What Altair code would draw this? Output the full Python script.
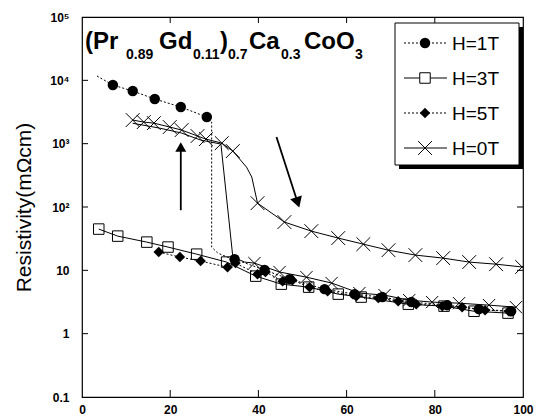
import altair as alt
import pandas as pd

# ---------------- data ----------------
# H=1T : dotted line, filled circles
h1_line_x = [3.4, 7.0, 11.5, 16.5, 22.4, 28.3, 29.4, 29.4, 30.8, 33.5, 34.6, 41.4, 47.1, 55.0, 61.8, 68.1, 74.7, 82.8, 90.0, 97.3]
h1_line_y = [11700, 8430, 6780, 5070, 3790, 2630, 2190, 23.3, 18.7, 15.6, 15.0, 10.1, 7.26, 5.05, 4.21, 3.78, 3.15, 2.82, 2.44, 2.26]
h1_mark_x = [7.0, 11.5, 16.5, 22.4, 28.3, 34.6, 41.4, 47.1, 55.0, 61.8, 68.1, 74.7, 82.8, 90.0, 97.3]
h1_mark_y = [8430, 6780, 5070, 3790, 2630, 15.0, 10.1, 7.26, 5.05, 4.21, 3.78, 3.15, 2.82, 2.44, 2.26]

# H=3T : solid line, open squares
h3_x = [3.8, 8.1, 14.7, 19.5, 26.0, 32.8, 39.4, 45.2, 51.4, 58.1, 63.3, 74.0, 82.1, 88.9, 96.6]
h3_y = [44.8, 34.7, 27.9, 23.3, 18.0, 13.5, 8.1, 6.05, 5.43, 4.21, 3.78, 2.92, 2.72, 2.26, 2.11]

# H=5T : dotted line, filled diamonds
h5_x = [17.4, 22.2, 26.9, 33.0, 34.8, 39.8, 41.6, 45.5, 47.7, 51.6, 55.7, 62.2, 67.2, 71.7, 75.8, 81.7, 86.2, 91.4, 96.8]
h5_y = [19.4, 16.2, 14.0, 11.2, 13.0, 8.7, 9.4, 6.75, 7.0, 5.43, 4.69, 3.91, 3.64, 3.26, 2.92, 2.72, 2.62, 2.35, 2.26]

# H=0T (upper branch) : solid line, crosses
h0a_line_x = [11.5, 14.0, 16.3, 19.9, 22.6, 26.2, 28.1, 31.7, 34.2, 37.3, 38.5, 39.8, 45.9, 52.0, 58.1, 63.8, 69.5, 75.6, 81.9, 87.8, 93.9, 99.8]
h0a_line_y = [2360, 2190, 2110, 1830, 1640, 1320, 1180, 1020, 764, 427, 297, 115, 57.8, 41.6, 32.3, 25.9, 20.8, 17.4, 15.6, 13.5, 12.5, 11.3]
h0a_mark_x = [11.5, 14.0, 16.3, 19.9, 22.6, 26.2, 28.1, 31.7, 34.2, 39.8, 45.9, 52.0, 58.1, 63.8, 69.5, 75.6, 81.9, 87.8, 93.9, 99.8]
h0a_mark_y = [2360, 2190, 2110, 1830, 1640, 1320, 1180, 1020, 764, 115, 57.8, 41.6, 32.3, 25.9, 20.8, 17.4, 15.6, 13.5, 12.5, 11.3]

# H=0T (second branch, dropping near 33) : solid line, crosses on the low part
h0b_line_x = [11.5, 17.6, 22.6, 26.9, 31.5, 34.2, 36.9, 39.1, 44.8, 50.9, 56.6, 62.9, 68.6, 74.2, 79.4, 85.5, 92.3, 98.4]
h0b_line_y = [2100, 1760, 1470, 1140, 986, 16.2, 13.5, 13.0, 9.4, 7.8, 6.3, 4.37, 4.06, 3.38, 3.15, 3.03, 2.82, 2.62]
h0b_mark_x = [39.1, 44.8, 50.9, 56.6, 62.9, 68.6, 74.2, 79.4, 85.5, 92.3, 98.4]
h0b_mark_y = [13.0, 9.4, 7.8, 6.3, 4.37, 4.06, 3.38, 3.15, 3.03, 2.82, 2.62]

# arrows (tail -> head)
arrow_up_x = [22.4, 22.4]
arrow_up_y = [89, 883]
arrow_dn_x = [44.1, 48.9]
arrow_dn_y = [1270, 118]

x_ticks = [0, 20, 40, 60, 80, 100]
y_ticks = [0.1, 1, 10, 100, 1000, 10000, 100000]
y_tick_labels = ["0.1", "1", "10", "10²", "10³", "10⁴", "10⁵"]
legend_labels = ["H=1T", "H=3T", "H=5T", "H=0T"]

# ---------------- chart ----------------
W, H = 441, 380
FONT = "Liberation Sans"
XPATH = "M-1,-1L1,1M-1,1L1,-1"

xs = alt.Scale(domain=[0, 100], nice=False)
ys = alt.Scale(type="log", domain=[0.1, 100000], nice=False)

label_expr = " : ".join(
    f"datum.value == {v} ? '{l}'" for v, l in zip(y_ticks, y_tick_labels)
) + " : ''"

x_axis = alt.Axis(values=x_ticks, ticks=False, domain=False, grid=False,
                  labelFont=FONT, labelFontSize=12, labelFontWeight="bold",
                  labelPadding=7, labelColor="black", title=None,
                  labelFlush=False)
y_axis = alt.Axis(values=y_ticks, ticks=False, domain=False, grid=False,
                  labelExpr=label_expr, labelFont=FONT, labelFontSize=12,
                  labelFontWeight="bold", labelPadding=13, labelColor="black",
                  title="Resistivity(mΩcm)", titleFont=FONT, titleFontSize=21,
                  titleFontWeight="normal", titleColor="black",
                  titleX=-48, titleY=190, titleAngle=-90, titleAlign="center",
                  titleBaseline="bottom", labelFlush=False)


def X(field):
    return alt.X(field, scale=xs, axis=x_axis)


def Y(field):
    return alt.Y(field, scale=ys, axis=y_axis)


def df_xy(x, y):
    return pd.DataFrame({"x": x, "y": y, "o": list(range(len(x)))})


def line_layer(x, y, dash=None, width=1.0):
    kw = dict(color="black", strokeWidth=width, clip=True)
    if dash:
        kw["strokeDash"] = dash
    return alt.Chart(df_xy(x, y)).mark_line(**kw).encode(
        x=X("x:Q"), y=Y("y:Q"), order="o:Q")


def mark_layer(x, y, shape, filled, size, sw=1):
    kw = dict(shape=shape, filled=filled, size=size, color="black",
              strokeWidth=sw, opacity=1, clip=True)
    if filled:
        kw["fill"] = "black"
    return alt.Chart(df_xy(x, y)).mark_point(**kw).encode(x=X("x:Q"), y=Y("y:Q"))


DOT = [2, 2]
layers = [
    line_layer(h1_line_x, h1_line_y, DOT),
    line_layer(h3_x, h3_y),
    line_layer(h5_x, h5_y, DOT),
    line_layer(h0a_line_x, h0a_line_y),
    line_layer(h0b_line_x, h0b_line_y),
    mark_layer(h3_x, h3_y, "square", False, 110),
    mark_layer(h0a_mark_x, h0a_mark_y, XPATH, False, 190),
    mark_layer(h0b_mark_x, h0b_mark_y, XPATH, False, 150),
    mark_layer(h5_x, h5_y, "diamond", True, 110),
    mark_layer(h1_mark_x, h1_mark_y, "circle", True, 110),
]

# arrows
for ax_, ay_, ang, hs in [(arrow_up_x, arrow_up_y, 0, 120), (arrow_dn_x, arrow_dn_y, 162, 150)]:
    layers.append(line_layer(ax_, ay_, width=1.8))
    layers.append(alt.Chart(df_xy(ax_[1:], ay_[1:])).mark_point(
        shape="triangle-up", filled=True, fill="black", color="black",
        size=hs, angle=ang, opacity=1).encode(x=X("x:Q"), y=Y("y:Q")))

# inward ticks on all four sides
ytk = pd.DataFrame({"y": y_ticks[1:-1]})
xtk = pd.DataFrame({"x": x_ticks[1:-1]})
layers += [
    alt.Chart(ytk).mark_rule(color="black", strokeWidth=1).encode(
        y=Y("y:Q"), x=alt.value(0), x2=alt.value(6)),
    alt.Chart(ytk).mark_rule(color="black", strokeWidth=1).encode(
        y=Y("y:Q"), x=alt.value(W), x2=alt.value(W - 6)),
    alt.Chart(xtk).mark_rule(color="black", strokeWidth=1).encode(
        x=X("x:Q"), y=alt.value(H), y2=alt.value(H - 7)),
    alt.Chart(xtk).mark_rule(color="black", strokeWidth=1).encode(
        x=X("x:Q"), y=alt.value(0), y2=alt.value(6)),
]

one = pd.DataFrame({"a": [0]})

# title formula with subscripts
MAIN, SUB = 24, 14
title_parts = [
    ("(Pr", 3, MAIN), ("0.89", 44, SUB), ("Gd", 77, MAIN),
    ("0.11", 111, SUB), (")", 138, MAIN), ("0.7", 146, SUB),
    ("Ca", 167, MAIN), ("0.3", 199, SUB), ("CoO", 222, MAIN),
    ("3", 273, SUB),
]
for txt, px, fs in title_parts:
    py = 32 if fs == MAIN else 42
    layers.append(alt.Chart(one).mark_text(
        text=txt, align="left", baseline="alphabetic", font=FONT,
        fontSize=fs, fontWeight="bold", color="black").encode(
        x=alt.value(px), y=alt.value(py)))

# legend box (with shadow)
LX0, LX1, LY0, LY1 = 313, 437, 6, 148
layers.append(alt.Chart(one).mark_rect(color="black").encode(
    x=alt.value(LX0 + 4), x2=alt.value(LX1 + 4),
    y=alt.value(LY0 + 4), y2=alt.value(LY1 + 4)))
layers.append(alt.Chart(one).mark_rect(fill="white", stroke="black", strokeWidth=1).encode(
    x=alt.value(LX0), x2=alt.value(LX1), y=alt.value(LY0), y2=alt.value(LY1)))

leg_style = [
    (DOT, "circle", True, 110),
    (None, "square", False, 110),
    (DOT, "diamond", True, 110),
    (None, XPATH, False, 190),
]
leg_y = [26, 61, 96, 131]
for lab, (dash, shp, fil, sz), ly in zip(legend_labels, leg_style, leg_y):
    rk = dict(color="black", strokeWidth=1)
    if dash:
        rk["strokeDash"] = dash
    layers.append(alt.Chart(one).mark_rule(**rk).encode(
        x=alt.value(322), x2=alt.value(365), y=alt.value(ly)))
    pk = dict(shape=shp, filled=fil, size=sz, color="black", strokeWidth=1, opacity=1)
    if fil:
        pk["fill"] = "black"
    else:
        pk["fill"] = "white"
    layers.append(alt.Chart(one).mark_point(**pk).encode(
        x=alt.value(343), y=alt.value(ly)))
    layers.append(alt.Chart(one).mark_text(
        text=lab, align="left", baseline="middle", font=FONT, fontSize=19,
        color="black").encode(x=alt.value(370), y=alt.value(ly + 1)))

chart = alt.layer(*layers).properties(
    width=W, height=H,
    autosize=alt.AutoSizeParams(type="none"),
    padding={"left": 74, "top": 9, "right": 13, "bottom": 18},
    background="white",
).configure_view(stroke="black", strokeWidth=1.2)

chart.save("out.html", embed_options={"renderer": "svg", "actions": False})
